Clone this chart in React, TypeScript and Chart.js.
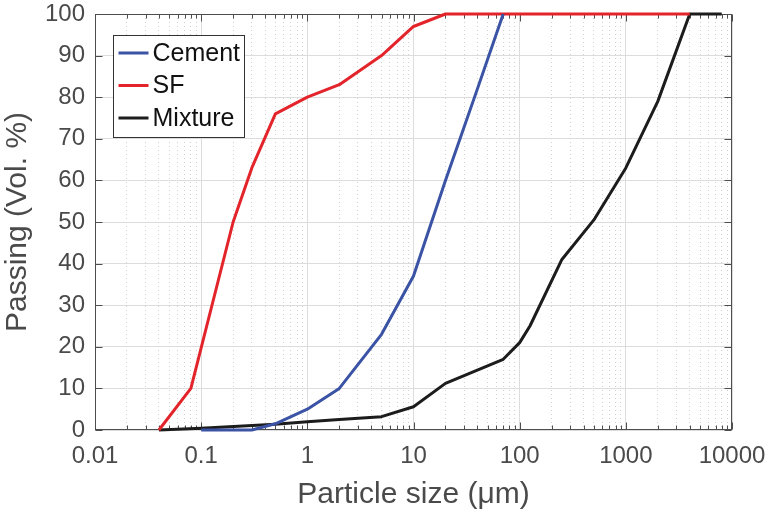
import React, { useEffect, useRef } from 'react';
import { Chart, registerables } from 'chart.js';
Chart.register(...registerables);

// ---- data ----
const cementX = [0.1, 0.3, 0.5, 1, 2, 5, 10, 20, 40, 70];
const cementY = [0, 0, 1.5, 5, 10, 23, 37, 60, 82, 100];

const sfX = [0.04, 0.08, 0.2, 0.3, 0.5, 1, 2, 5, 10, 20, 4000];
const sfY = [0, 10, 50, 63, 76, 80, 83, 90, 97, 100, 100];

const mixX = [0.04, 0.1, 0.5, 1, 2, 5, 10, 20, 70, 100, 125, 250, 500, 1000, 2000, 4000, 8000];
const mixY = [0, 0.4, 1.4, 2, 2.5, 3.2, 5.6, 11.2, 17, 21, 25, 41, 50.5, 63, 79, 100, 100];

const seriesLabels = ['Cement', 'SF', 'Mixture'];
const seriesColors = ['#3a53a4', '#e3242b', '#1c1c1c'];

const xMajorTicks = [0.01, 0.1, 1, 10, 100, 1000, 10000];
const xTickLabels = ['0.01', '0.1', '1', '10', '100', '1000', '10000'];
const yTicks = [0, 10, 20, 30, 40, 50, 60, 70, 80, 90, 100];

const xMinorTicks: number[] = [];
for (let d = 0; d < xMajorTicks.length - 1; d++) {
  for (let m = 2; m <= 9; m++) xMinorTicks.push(+(xMajorTicks[d] * m).toPrecision(6));
}

const FONT = '"Liberation Sans", Arial, Helvetica, sans-serif';
const TEXT = '#4a4a4a';

const pts = (xs: number[], ys: number[]) => xs.map((x, i) => ({ x, y: ys[i] }));

const zeroPad = (s: any) => { s.paddingTop = 0; s.paddingBottom = 0; s.paddingLeft = 0; s.paddingRight = 0; };

const framePlugin = {
  id: 'frame',
  beforeDatasetsDraw(chart: any) {
    const { ctx, chartArea } = chart;
    const l = Math.round(chartArea.left) + 0.5;
    const r = Math.round(chartArea.right) - 0.5;
    const t = Math.round(chartArea.top) + 0.5;
    const b = Math.round(chartArea.bottom) - 0.5;
    ctx.save();
    ctx.strokeStyle = '#4d4d4d';
    ctx.lineWidth = 1;
    ctx.strokeRect(l, t, r - l, b - t);
    const xs = chart.scales.x;
    const ys = chart.scales.y;
    ctx.beginPath();
    const xt = (v: number, len: number) => {
      const p = Math.round(xs.getPixelForValue(v)) + 0.5;
      ctx.moveTo(p, b); ctx.lineTo(p, b - len);
      ctx.moveTo(p, t); ctx.lineTo(p, t + len);
    };
    xMajorTicks.forEach(v => xt(v, 7));
    xMinorTicks.forEach(v => xt(v, 4));
    yTicks.forEach(v => {
      const p = Math.round(ys.getPixelForValue(v)) + 0.5;
      ctx.moveTo(l, p); ctx.lineTo(l + 7, p);
      ctx.moveTo(r, p); ctx.lineTo(r - 7, p);
    });
    ctx.stroke();
    ctx.restore();
  },
  afterDatasetsDraw(chart: any) {
    const { ctx, chartArea } = chart;
    const bx = Math.round(chartArea.left) + 18.5;
    const by = Math.round(chartArea.top) + 21.5;
    const bw = 131;
    const bh = 102;
    ctx.save();
    ctx.fillStyle = '#ffffff';
    ctx.fillRect(bx, by, bw, bh);
    ctx.strokeStyle = '#333333';
    ctx.lineWidth = 1;
    ctx.strokeRect(bx, by, bw, bh);
    ctx.font = `25px ${FONT}`;
    ctx.textBaseline = 'middle';
    ctx.textAlign = 'left';
    chart.data.datasets.forEach((ds: any, i: number) => {
      const cy = by + 17.5 + i * 32.5;
      ctx.strokeStyle = ds.borderColor;
      ctx.lineWidth = 3;
      ctx.beginPath();
      ctx.moveTo(bx + 5, cy);
      ctx.lineTo(bx + 35, cy);
      ctx.stroke();
      ctx.fillStyle = '#111111';
      ctx.fillText(ds.label, bx + 39, cy + 1);
    });
    ctx.restore();
  },
};

export default function App() {
  const ref = useRef<HTMLCanvasElement | null>(null);
  useEffect(() => {
    if (!ref.current) return;
    const chart = new Chart(ref.current, {
      type: 'line',
      data: {
        datasets: [
          { label: seriesLabels[0], data: pts(cementX, cementY), borderColor: seriesColors[0] },
          { label: seriesLabels[1], data: pts(sfX, sfY), borderColor: seriesColors[1] },
          { label: seriesLabels[2], data: pts(mixX, mixY), borderColor: seriesColors[2] },
        ].map(d => ({ ...d, borderWidth: 3, pointRadius: 0, fill: false, tension: 0, clip: false as any, borderJoinStyle: 'round' as const })),
      },
      options: {
        responsive: false,
        animation: false,
        parsing: true,
        layout: { padding: { top: 14, right: 41, bottom: 0, left: 0 } },
        plugins: { legend: { display: false }, tooltip: { enabled: false } },
        scales: {
          x: {
            type: 'logarithmic',
            position: 'bottom',
            min: 0.01,
            max: 10000,
            afterBuildTicks: (s: any) => { s.ticks = xMajorTicks.map(v => ({ value: v })); },
            afterFit: (s: any) => { s.height = 89; zeroPad(s); },
            ticks: {
              autoSkip: false,
              maxRotation: 0,
              padding: 12,
              color: TEXT,
              font: { family: FONT, size: 24 },
              callback: (v: any) => { const i = xMajorTicks.indexOf(Number(v)); return i >= 0 ? xTickLabels[i] : ''; },
            },
            grid: { color: '#dcdcdc', lineWidth: 1, drawTicks: false },
            border: { display: false },
            title: { display: true, text: 'Particle size (\u03bcm)', color: TEXT, font: { family: FONT, size: 30 }, padding: { top: 0, bottom: 6 } },
          },
          x2: {
            type: 'logarithmic',
            position: 'bottom',
            min: 0.01,
            max: 10000,
            afterBuildTicks: (s: any) => { s.ticks = xMinorTicks.map(v => ({ value: v })); },
            afterFit: (s: any) => { s.height = 0; zeroPad(s); },
            ticks: { display: false },
            grid: { color: '#d0d0d0', lineWidth: 1, drawTicks: false },
            border: { display: false, dash: [1, 3] },
          },
          y: {
            type: 'linear',
            min: 0,
            max: 100,
            afterBuildTicks: (s: any) => { s.ticks = yTicks.map(v => ({ value: v })); },
            afterFit: (s: any) => { s.width = 95; zeroPad(s); },
            ticks: { padding: 10, color: TEXT, font: { family: FONT, size: 24 } },
            grid: { color: '#dcdcdc', lineWidth: 1, drawTicks: false },
            border: { display: false },
            title: { display: true, text: 'Passing (Vol. %)', color: TEXT, font: { family: FONT, size: 30 }, padding: { top: 0, bottom: 0 } },
          },
        },
      },
      plugins: [framePlugin],
    } as any);
    return () => chart.destroy();
  }, []);
  return (
    <div style={{ position: 'absolute', left: 0, top: 0, width: 773, height: 519, background: '#fff' }}>
      <canvas ref={ref} width={773} height={519} style={{ display: 'block' }} />
    </div>
  );
}
